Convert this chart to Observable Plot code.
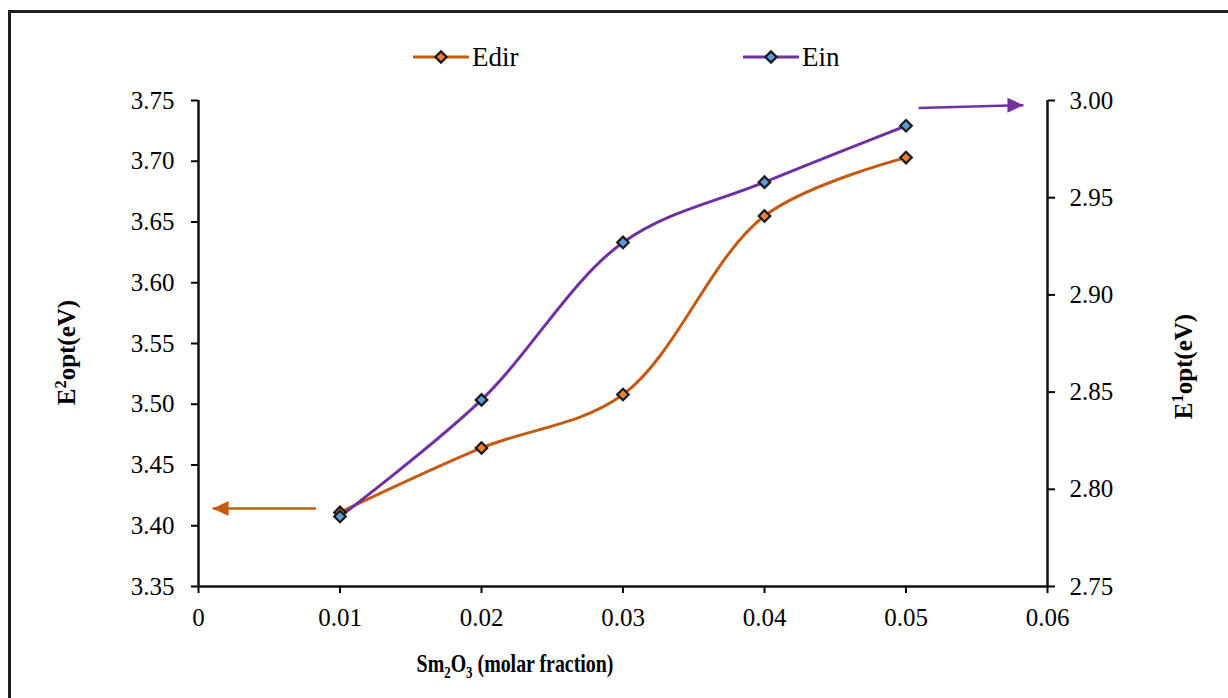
<!DOCTYPE html>
<html>
<head>
<meta charset="utf-8">
<script src="https://cdn.jsdelivr.net/npm/d3@7"></script>
<script src="https://cdn.jsdelivr.net/npm/@observablehq/plot@0.6"></script>
<style>
  body { margin: 0; background: #fff; font-family: "Liberation Serif", "Times New Roman", serif; }
  #wrap { position: relative; width: 1228px; height: 698px; overflow: hidden; }
  #frame { position: absolute; left: 8px; top: 10px; width: 1260px; height: 740px;
           border-left: 3px solid #1e1e1e; border-top: 3px solid #1e1e1e; pointer-events: none; }
  #legend { position: absolute; left: 0; top: 0; width: 1228px; height: 80px; }
  .item { position: absolute; top: 41px; height: 32px; display: flex; align-items: center;
          font-size: 27px; color: #000; }
  .item svg { margin-right: 3px; }
  #chart { position: absolute; left: 0; top: 80px; }
</style>
</head>
<body>
<div id="wrap">
  <div id="legend"></div>
  <div id="chart"></div>
  <div id="frame"></div>
</div>
<script>
// ---- data ----
const fraction = [0.01, 0.02, 0.03, 0.04, 0.05];
const edir = [3.411, 3.464, 3.508, 3.655, 3.703];   // left axis (E2opt)
const ein  = [2.786, 2.846, 2.927, 2.958, 2.987];   // right axis (E1opt)
const xTicks = [0, 0.01, 0.02, 0.03, 0.04, 0.05, 0.06];
const leftTicks = [3.35, 3.40, 3.45, 3.50, 3.55, 3.60, 3.65, 3.70, 3.75];
const rightTicks = [2.75, 2.80, 2.85, 2.90, 2.95, 3.00];
const seriesNames = ["Edir", "Ein"];
// annotation arrows (data coordinates): left arrow on left scale, right arrow on right scale
const arrowFromX = [0.0083, 0.0509];
const arrowToX   = [0.0010, 0.0583];
const arrowFromY = [3.4143, 2.9961];
const arrowToY   = [3.4143, 2.9976];
const arrowAxis  = ["left", "right"];

// ---- styles ----
const lineColors = ["#C55A11", "#7030A0"];
const markerFills = ["#ED7D31", "#5B9BD5"];

// right-axis mapping onto the left scale
const L0 = 3.35, L1 = 3.75, R0 = 2.75, R1 = 3.00;
const toLeft = v => L0 + (v - R0) * (L1 - L0) / (R1 - R0);
const toRight = v => R0 + (v - L0) * (R1 - R0) / (L1 - L0);

const rows = fraction.map((f, i) => ({x: f, edir: edir[i], ein: ein[i], einL: toLeft(ein[i])}));
const arrows = arrowFromX.map((_, i) => ({
  x1: arrowFromX[i], x2: arrowToX[i],
  y1: arrowAxis[i] === "left" ? arrowFromY[i] : toLeft(arrowFromY[i]),
  y2: arrowAxis[i] === "left" ? arrowToY[i] : toLeft(arrowToY[i]),
  color: lineColors[i], dir: arrowAxis[i]
}));

const headRight = {draw(ctx) { ctx.moveTo(0, 0); ctx.lineTo(-16, -7.5); ctx.lineTo(-16, 7.5); ctx.closePath(); }};
const headLeft  = {draw(ctx) { ctx.moveTo(0, 0); ctx.lineTo(16, -7.5); ctx.lineTo(16, 7.5); ctx.closePath(); }};

const tickFont = 25;
const chart = Plot.plot({
  width: 1228,
  height: 618,
  marginLeft: 198,
  marginRight: 181,
  marginTop: 20,
  marginBottom: 112,
  style: {fontFamily: '"Liberation Serif", "Times New Roman", serif', fontSize: tickFont + "px", color: "#000", background: "transparent"},
  x: {domain: [0, 0.06]},
  y: {domain: [L0, L1]},
  marks: [
    Plot.axisX({ticks: xTicks, tickFormat: d => d === 0 ? "0" : d3.format(".2f")(d), tickSize: 7, tickPadding: 15,
                strokeWidth: 2, label: null, fontSize: tickFont}),
    Plot.axisY({anchor: "left", ticks: leftTicks, tickFormat: d3.format(".2f"), tickSize: 7, tickPadding: 17,
                strokeWidth: 2, label: null, fontSize: tickFont}),
    Plot.axisY({anchor: "right", ticks: rightTicks.map(toLeft), tickFormat: v => toRight(v).toFixed(2),
                tickSize: 7, tickPadding: 15, strokeWidth: 2, label: null, fontSize: tickFont}),
    Plot.ruleX([0, 0.06], {stroke: "#111", strokeWidth: 2.5}),
    Plot.ruleY([L0], {stroke: "#111", strokeWidth: 2.5}),
    Plot.line(rows, {x: "x", y: "edir", curve: "catmull-rom", stroke: lineColors[0], strokeWidth: 3}),
    Plot.line(rows, {x: "x", y: "einL", curve: "catmull-rom", stroke: lineColors[1], strokeWidth: 3}),
    Plot.dot(rows, {x: "x", y: "edir", symbol: "diamond2", r: 5.2, fill: markerFills[0], stroke: "#1a1a1a", strokeWidth: 2.2}),
    Plot.dot(rows, {x: "x", y: "einL", symbol: "diamond2", r: 5.2, fill: markerFills[1], stroke: "#1a1a1a", strokeWidth: 2.2}),
    Plot.link(arrows, {x1: "x1", y1: "y1", x2: "x2", y2: "y2", stroke: "color", strokeWidth: 2.5}),
    Plot.dot(arrows.filter(a => a.dir === "left"), {x: "x2", y: "y2", symbol: headLeft, r: 5, fill: "color", stroke: "none"}),
    Plot.dot(arrows.filter(a => a.dir === "right"), {x: "x2", y: "y2", symbol: headRight, r: 5, fill: "color", stroke: "none"}),
    Plot.text(["Sm2O3 (molar fraction)"], {frameAnchor: "bottom", textAnchor: "middle", dx: -108, dy: 85, fontSize: 26, fontWeight: "bold", className: "xtitle"}),
    Plot.text(["E2opt(eV)"], {frameAnchor: "left", textAnchor: "middle", rotate: -90, dx: -132, dy: 9, fontSize: 25, fontWeight: "bold", className: "ytitleL"}),
    Plot.text(["E1opt(eV)"], {frameAnchor: "right", textAnchor: "middle", rotate: -90, dx: 136, dy: 23, fontSize: 25, fontWeight: "bold", className: "ytitleR"})
  ]
});
document.getElementById("chart").appendChild(chart);

// rich text for titles (subscripts / superscripts)
function rich(sel, parts) {
  const t = d3.select(chart).select(sel + " text");
  t.text(null);
  parts.forEach(([s, kind]) => {
    const sp = t.append("tspan").text(s);
    if (kind === "sub") sp.attr("font-size", "0.65em").attr("dy", "6");
    if (kind === "subEnd") sp.attr("dy", "-6");
    if (kind === "sup") sp.attr("font-size", "0.65em").attr("dy", "-9");
    if (kind === "supEnd") sp.attr("dy", "9");
  });
}
rich(".xtitle", [["Sm"], ["2", "sub"], ["O", "subEnd"], ["3", "sub"], [" (molar fraction)", "subEnd"]]);
rich(".ytitleL", [["E"], ["2", "sup"], ["opt(eV)", "supEnd"]]);
rich(".ytitleR", [["E"], ["1", "sup"], ["opt(eV)", "supEnd"]]);
// the reference's x title is horizontally condensed: scale the whole text to its width
{
  const t = d3.select(chart).select(".xtitle text");
  const w = t.node().getBBox().width;
  const sx = 197 / w;
  t.attr("transform", (t.attr("transform") || "") + ` scale(${sx},1)`);
}

// legend
const legendLeft = [413, 743];
const legend = document.getElementById("legend");
seriesNames.forEach((name, i) => {
  const item = document.createElement("div");
  item.className = "item";
  item.style.left = legendLeft[i] + "px";
  const sw = d3.create("svg").attr("width", 56).attr("height", 20);
  sw.append("line").attr("x1", 1).attr("x2", 55).attr("y1", 10).attr("y2", 10)
    .attr("stroke", lineColors[i]).attr("stroke-width", 3).attr("stroke-linecap", "round");
  sw.append("path").attr("transform", "translate(28,10)")
    .attr("d", d3.symbol(d3.symbolDiamond2, 80)())
    .attr("fill", markerFills[i]).attr("stroke", "#1a1a1a").attr("stroke-width", 2.2);
  item.appendChild(sw.node());
  const label = document.createElement("span");
  label.textContent = name;
  item.appendChild(label);
  legend.appendChild(item);
});
</script>
</body>
</html>
